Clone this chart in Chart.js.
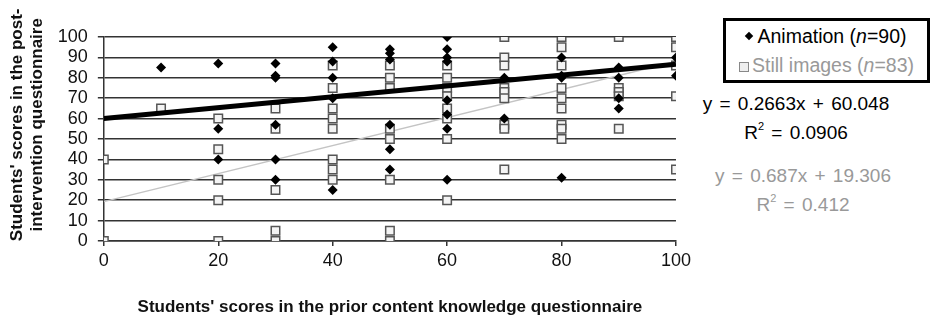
<!DOCTYPE html>
<html>
<head>
<meta charset="utf-8">
<script src="https://cdn.jsdelivr.net/npm/chart.js@4"></script>
<style>
  body { margin: 0; background: #fff; font-family: "Liberation Sans", Arial, sans-serif; }
  #wrap { position: relative; width: 931px; height: 328px; overflow: hidden; }
  #chartBox { position: absolute; left: 0; top: 0; width: 695px; height: 328px; }
  .legend { position: absolute; left: 723px; top: 18px; width: 201px; height: 59px; border: 3.5px solid #000; font-size: 19.5px; }
  .legend div { position: absolute; left: 0; width: 100%; text-align: center; white-space: nowrap; }
  .dia { display: inline-block; width: 6px; height: 6px; background: #000; transform: rotate(45deg); margin: 0 5px 4px 0; }
  .sq { display: inline-block; width: 8px; height: 8px; border: 1.5px solid #888; background: #eee; margin: 0 3px 0 0; }
  .eq { position: absolute; font-size: 19px; white-space: nowrap; text-align: center; line-height: 22px; word-spacing: 2px; }
  sup { font-size: 11px; vertical-align: 9px; }
</style>
</head>
<body>
<div id="wrap">
  <div id="chartBox"><canvas id="scoresChart"></canvas></div>
  <div class="legend">
    <div style="top:4px"><span class="dia"></span>Animation (<i>n</i>=90)</div>
    <div style="top:33px;color:#999"><span class="sq"></span>Still images (<i>n</i>=83)</div>
  </div>
  <div class="eq" style="left:696px;top:93px;width:200px;color:#000">y = 0.2663x + 60.048<br>R<sup>2</sup> = 0.0906</div>
  <div class="eq" style="left:703px;top:165px;width:200px;color:#999">y = 0.687x + 19.306<br>R<sup>2</sup> = 0.412</div>
</div>
<script>
// prior knowledge score (x) / post-intervention score (y)
const animX = [10, 20, 20, 20, 30, 30, 30, 30, 30, 30, 40, 40, 40, 40, 40,
               50, 50, 50, 50, 50, 50, 60, 60, 60, 60, 60, 60, 60, 60,
               70, 70, 80, 80, 80, 80, 90, 90, 90, 90, 100, 100];
const animY = [85, 87, 55, 40, 87, 81, 80, 57, 40, 30, 95, 88, 80, 70, 25,
               94, 92, 89, 57, 45, 35, 100, 94, 90, 88, 69, 62, 55, 30,
               80, 60, 90, 81, 80, 31, 85, 80, 70, 65, 90, 81];

const stillX = [0, 0, 10, 20, 20, 20, 20, 20, 30, 30, 30, 30, 30,
                40, 40, 40, 40, 40, 40, 40, 40, 50, 50, 50, 50, 50, 50, 50, 50,
                60, 60, 60, 60, 60, 60, 60, 60, 70, 70, 70, 70, 70, 70, 70, 70, 70,
                80, 80, 80, 80, 80, 80, 80, 80, 80, 90, 90, 90, 90, 90,
                100, 100, 100, 100, 100];
const stillY = [40, 0, 65, 60, 45, 30, 20, 0, 65, 55, 25, 5, 0,
                86, 75, 65, 60, 55, 40, 35, 30, 86, 80, 75, 55, 50, 30, 5, 0,
                86, 80, 75, 71, 65, 60, 50, 20, 100, 90, 86, 75, 73, 70, 57, 55, 35,
                100, 95, 86, 75, 70, 65, 57, 55, 50, 100, 75, 73, 71, 55,
                100, 95, 86, 71, 35];

// linear trend lines, end points from the printed equations
const trendX = [0, 100];
const animTrendY = [60.05, 86.68];
const stillTrendY = [19.31, 88.01];

const xTicks = [0, 20, 40, 60, 80, 100];

function toPoints(xs, ys) {
    return xs.map((x, i) => ({ x: x, y: ys[i] }));
}

const fontName = "'Liberation Sans', Arial, sans-serif";

new Chart(document.getElementById("scoresChart"), {
    type: "scatter",
    data: {
        datasets: [
            {
                label: "Animation trend",
                data: toPoints(trendX, animTrendY),
                showLine: true,
                borderColor: "#000",
                borderWidth: 5,
                pointRadius: 0,
                order: 0
            },
            {
                label: "Still trend",
                data: toPoints(trendX, stillTrendY),
                showLine: true,
                borderColor: "#c4c4c4",
                borderWidth: 1.5,
                pointRadius: 0,
                order: 3
            },
            {
                label: "Animation",
                data: toPoints(animX, animY),
                pointStyle: "rectRot",
                pointRadius: 5,
                backgroundColor: "#000",
                borderColor: "#000",
                borderWidth: 0,
                order: 1
            },
            {
                label: "Still images",
                data: toPoints(stillX, stillY),
                pointStyle: "rect",
                pointRadius: 6,
                backgroundColor: "#f4f4f4",
                borderColor: "#555",
                borderWidth: 1.5,
                order: 2
            }
        ]
    },
    options: {
        responsive: true,
        maintainAspectRatio: false,
        animation: false,
        layout: { padding: { top: 37, right: 0, left: 7, bottom: 10 } },
        plugins: {
            legend: { display: false },
            tooltip: { enabled: false }
        },
        scales: {
            x: {
                type: "linear",
                min: 0,
                max: 100,
                afterBuildTicks: axis => { axis.ticks = xTicks.map(v => ({ value: v })); },
                grid: { drawOnChartArea: false, drawTicks: true, tickLength: 5, color: "#333", lineWidth: 1.5 },
                border: { display: true, color: "#333", width: 1.5 },
                ticks: { color: "#111", font: { family: fontName, size: 18 }, padding: 4 },
                title: {
                    display: true,
                    text: "Students' scores in the prior content knowledge questionnaire",
                    color: "#111",
                    font: { family: fontName, size: 17, weight: "bold" },
                    padding: { top: 22, bottom: 0 }
                }
            },
            y: {
                min: 0,
                max: 100,
                ticks: { stepSize: 10, autoSkip: false, color: "#111", font: { family: fontName, size: 18 }, padding: 10 },
                grid: { color: "#333", lineWidth: 1.5, tickLength: 6 },
                border: { display: true, color: "#333", width: 1.5 },
                title: {
                    display: true,
                    text: ["      Students' scores in the post-", "      intervention questionnaire"],
                    color: "#111",
                    font: { family: fontName, size: 17, weight: "bold", lineHeight: 1.2 },
                    padding: { top: 0, bottom: 0 }
                }
            }
        }
    }
});
</script>
</body>
</html>
